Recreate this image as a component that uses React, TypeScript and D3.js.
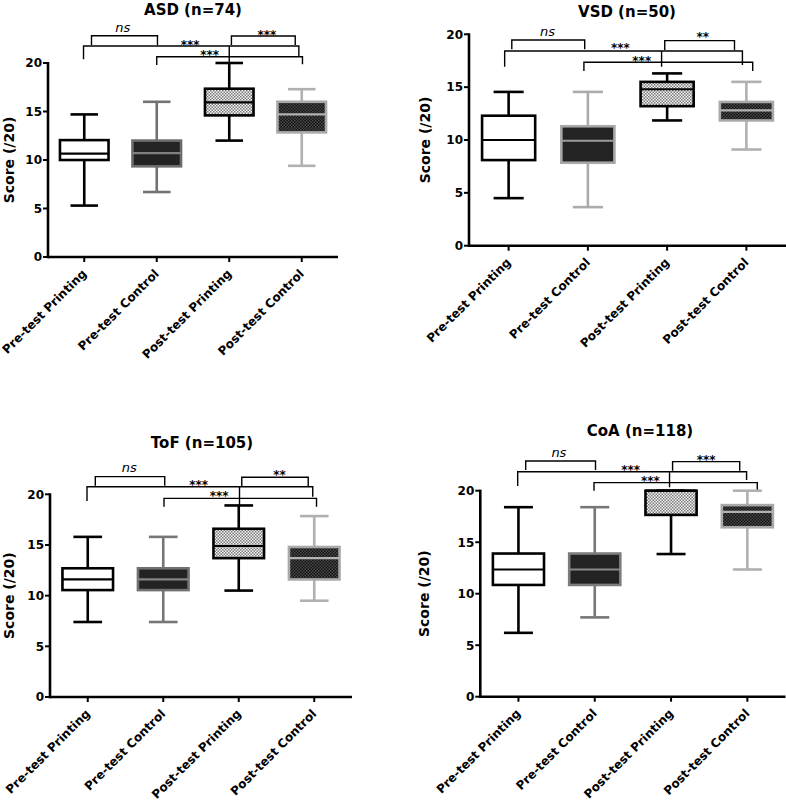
import React from "react";
import * as d3 from "d3";

const groups = ["Pre-test Printing", "Pre-test Control", "Post-test Printing", "Post-test Control"];
const yTicks = [0, 5, 10, 15, 20];

// ASD (n=74)
const asdMin = [5.3, 6.7, 12.0, 9.4];
const asdQ1 = [10.0, 9.35, 14.6, 12.85];
const asdMedian = [10.65, 10.7, 15.95, 14.7];
const asdQ3 = [12.05, 12.0, 17.35, 16.0];
const asdMax = [14.7, 16.0, 20.0, 17.3];

// VSD (n=50)
const vsdMin = [4.5, 3.65, 11.85, 9.1];
const vsdQ1 = [8.1, 7.85, 13.2, 11.85];
const vsdMedian = [10.0, 9.93, 14.8, 12.8];
const vsdQ3 = [12.3, 11.3, 15.5, 13.6];
const vsdMax = [14.55, 14.55, 16.3, 15.5];

// ToF (n=105)
const tofMin = [7.4, 7.4, 10.5, 9.5];
const tofQ1 = [10.55, 10.55, 13.7, 11.6];
const tofMedian = [11.6, 11.6, 14.9, 13.7];
const tofQ3 = [12.7, 12.7, 16.6, 14.8];
const tofMax = [15.8, 15.8, 18.9, 17.85];

// CoA (n=118)
const coaMin = [6.2, 7.7, 13.85, 12.35];
const coaQ1 = [10.85, 10.85, 17.65, 16.45];
const coaMedian = [12.35, 12.35, 20.0, 17.95];
const coaQ3 = [13.9, 13.9, 20.0, 18.6];
const coaMax = [18.4, 18.4, 20.0, 20.0];

// significance brackets: [x1 (category index), x2, top value, left leg bottom, right leg bottom]
const asdBrackets = [
  [0.1, 1.01, 22.81, 21.86, 21.86],
  [2.03, 2.91, 22.78, 21.86, 21.86],
  [-0.01, 2.96, 21.75, 20.38, 20.65],
  [1.0, 3.01, 20.65, 19.8, 19.87],
  [2.0, 2.0, 21.75, 20.0, 20.0],
];
const vsdBrackets = [
  [0.04, 0.96, 19.46, 18.58, 18.58],
  [1.97, 2.85, 19.4, 18.51, 18.51],
  [-0.05, 2.95, 18.42, 16.93, 17.1],
  [0.95, 3.08, 17.35, 16.53, 16.53],
  [1.93, 1.93, 18.42, 16.93, 16.93],
];
const tofBrackets = [
  [0.1, 1.02, 21.74, 20.85, 20.85],
  [2.04, 2.92, 21.68, 20.82, 20.82],
  [-0.01, 2.98, 20.75, 19.34, 19.76],
  [1.01, 3.03, 19.6, 18.78, 18.78],
  [2.01, 2.01, 20.75, 18.94, 18.94],
];
const coaBrackets = [
  [0.095, 1.01, 22.88, 22.01, 22.01],
  [2.02, 2.9, 22.82, 21.94, 21.94],
  [-0.01, 2.99, 21.84, 20.46, 21.04],
  [0.99, 3.13, 20.78, 20.0, 20.0],
  [1.98, 1.98, 21.84, 20.33, 20.33],
];

// significance labels: text, x (category index), value at glyph centre
const asdSigText = ["ns", "***", "***", "***"];
const asdSigX = [0.53, 1.46, 1.73, 2.52];
const asdSigY = [23.6, 22.2, 21.1, 23.2];
const vsdSigText = ["ns", "***", "***", "**"];
const vsdSigX = [0.49, 1.41, 1.68, 2.45];
const vsdSigY = [20.25, 18.99, 17.73, 20.0];
const tofSigText = ["ns", "***", "***", "**"];
const tofSigX = [0.55, 1.47, 1.74, 2.54];
const tofSigY = [22.57, 21.24, 20.1, 22.23];
const coaSigText = ["ns", "***", "***", "***"];
const coaSigX = [0.53, 1.47, 1.73, 2.46];
const coaSigY = [23.63, 22.33, 21.26, 23.3];

const FONT = "'DejaVu Sans', Verdana, sans-serif";

type PanelDef = {
  title: string;
  min: number[];
  q1: number[];
  med: number[];
  q3: number[];
  max: number[];
  brackets: number[][];
  sigText: string[];
  sigX: number[];
  sigY: number[];
  x0: number;
  x1: number;
  yTop: number;
  yBot: number;
  titleX: number;
  titleY: number;
  labelX: number;
  ctrlStroke: string;
  ctrlMedian: string;
  ctrlWhisker: string;
};

const panels: PanelDef[] = [
  {
    title: "ASD (n=74)", min: asdMin, q1: asdQ1, med: asdMedian, q3: asdQ3, max: asdMax,
    brackets: asdBrackets, sigText: asdSigText, sigX: asdSigX, sigY: asdSigY,
    x0: 48, x1: 338, yTop: 63, yBot: 257, titleX: 193, titleY: 15, labelX: 13.5,
    ctrlStroke: "#6c6c6c", ctrlMedian: "#808080", ctrlWhisker: "#727272",
  },
  {
    title: "VSD (n=50)", min: vsdMin, q1: vsdQ1, med: vsdMedian, q3: vsdQ3, max: vsdMax,
    brackets: vsdBrackets, sigText: vsdSigText, sigX: vsdSigX, sigY: vsdSigY,
    x0: 469, x1: 786, yTop: 34.3, yBot: 245.7, titleX: 627, titleY: 16.5, labelX: 430,
    ctrlStroke: "#a8a8a8", ctrlMedian: "#9c9c9c", ctrlWhisker: "#ababab",
  },
  {
    title: "ToF (n=105)", min: tofMin, q1: tofQ1, med: tofMedian, q3: tofQ3, max: tofMax,
    brackets: tofBrackets, sigText: tofSigText, sigX: tofSigX, sigY: tofSigY,
    x0: 50, x1: 352, yTop: 494.3, yBot: 697, titleX: 202, titleY: 448, labelX: 13.5,
    ctrlStroke: "#707070", ctrlMedian: "#858585", ctrlWhisker: "#767676",
  },
  {
    title: "CoA (n=118)", min: coaMin, q1: coaQ1, med: coaMedian, q3: coaQ3, max: coaMax,
    brackets: coaBrackets, sigText: coaSigText, sigX: coaSigX, sigY: coaSigY,
    x0: 480.3, x1: 785.5, yTop: 490.7, yBot: 696.7, titleX: 640, titleY: 436, labelX: 429,
    ctrlStroke: "#7c7c7c", ctrlMedian: "#8a8a8a", ctrlWhisker: "#777777",
  },
];

function Panel({ p }: { p: PanelDef }) {
  const x = d3.scaleBand<string>().domain(groups).range([p.x0, p.x1]).padding(0);
  const y = d3.scaleLinear().domain([0, 20]).range([p.yBot, p.yTop]);
  const step = x.step();
  const c0 = (x(groups[0]) as number) + x.bandwidth() / 2;
  const cx = (i: number) => c0 + i * step;
  const boxW = step * 0.67;
  const capW = step * 0.38;

  const fills = ["#ffffff", "#232323", "url(#lightDots)", "url(#darkDots)"];
  const strokes = ["#000", p.ctrlStroke, "#000", "#a9a9a9"];
  const medians = ["#000", p.ctrlMedian, "#000", "#b3b3b3"];
  const whiskers = ["#000", p.ctrlWhisker, "#000", "#b0b0b0"];
  const lw = 2.6;

  return (
    <g>
      <text x={p.titleX} y={p.titleY} textAnchor="middle" fontFamily={FONT} fontWeight="bold" fontSize={15}>
        {p.title}
      </text>
      <text
        transform={`translate(${p.labelX},${(p.yTop + p.yBot) / 2}) rotate(-90)`}
        textAnchor="middle"
        fontFamily={FONT}
        fontWeight="bold"
        fontSize={14}
      >
        Score (/20)
      </text>

      {/* brackets */}
      {p.brackets.map((b, i) => {
        const xa = cx(b[0]);
        const xb = cx(b[1]);
        const d =
          b[0] === b[1]
            ? `M${xa},${y(b[2])}V${y(b[3])}`
            : `M${xa},${y(b[3])}V${y(b[2])}H${xb}V${y(b[4])}`;
        return <path key={"b" + i} d={d} fill="none" stroke="#000" strokeWidth={1.4} />;
      })}
      {p.sigText.map((t, i) =>
        t === "ns" ? (
          <text key={"s" + i} x={cx(p.sigX[i])} y={y(p.sigY[i]) + 4} textAnchor="middle" fontFamily={FONT}
            fontStyle="italic" fontSize={13}>
            {t}
          </text>
        ) : (
          <text key={"s" + i} x={cx(p.sigX[i])} y={y(p.sigY[i]) + 7} textAnchor="middle" fontFamily={FONT}
            fontWeight="bold" fontSize={12}>
            {t}
          </text>
        )
      )}

      {/* boxes */}
      {groups.map((g, i) => {
        const c = (x(g) as number) + x.bandwidth() / 2;
        return (
          <g key={g}>
            <line x1={c} x2={c} y1={y(p.max[i])} y2={y(p.min[i])} stroke={whiskers[i]} strokeWidth={lw} />
            <line x1={c - capW / 2} x2={c + capW / 2} y1={y(p.max[i])} y2={y(p.max[i])} stroke={whiskers[i]} strokeWidth={lw} />
            <line x1={c - capW / 2} x2={c + capW / 2} y1={y(p.min[i])} y2={y(p.min[i])} stroke={whiskers[i]} strokeWidth={lw} />
            <rect
              x={c - boxW / 2}
              y={y(p.q3[i])}
              width={boxW}
              height={y(p.q1[i]) - y(p.q3[i])}
              fill={fills[i]}
              stroke={strokes[i]}
              strokeWidth={lw}
            />
            <line x1={c - boxW / 2} x2={c + boxW / 2} y1={y(p.med[i])} y2={y(p.med[i])} stroke={medians[i]} strokeWidth={2.2} />
          </g>
        );
      })}

      {/* axes */}
      <line x1={p.x0} x2={p.x0} y1={y(20) - 1} y2={p.yBot + 1.3} stroke="#000" strokeWidth={2.6} />
      <line x1={p.x0} x2={p.x1} y1={p.yBot} y2={p.yBot} stroke="#000" strokeWidth={2.6} />
      {yTicks.map((t) => (
        <g key={"yt" + t}>
          <line x1={p.x0 - 5} x2={p.x0} y1={y(t)} y2={y(t)} stroke="#000" strokeWidth={2} />
          <text x={p.x0 - 6} y={y(t)} dy="0.36em" textAnchor="end" fontFamily={FONT} fontWeight="bold" fontSize={12}>
            {t}
          </text>
        </g>
      ))}
      {groups.map((g) => {
        const c = (x(g) as number) + x.bandwidth() / 2;
        return (
          <g key={"xt" + g}>
            <line x1={c} x2={c} y1={p.yBot} y2={p.yBot + 5} stroke="#000" strokeWidth={2} />
            <text
              transform={`translate(${c + 3},${p.yBot + 17.5}) rotate(-45)`}
              textAnchor="end"
              fontFamily={FONT}
              fontWeight="bold"
              fontSize={12}
            >
              {g}
            </text>
          </g>
        );
      })}
    </g>
  );
}

export default function App() {
  return (
    <svg
      width={786}
      height={805}
      viewBox="0 0 786 805"
      style={{ position: "absolute", left: 0, top: 0, background: "#fff" }}
    >
      <defs>
        <pattern id="lightDots" width={3} height={3} patternUnits="userSpaceOnUse">
          <rect width={3} height={3} fill="#f4f4f4" />
          <rect x={0} y={0} width={1.5} height={1.5} fill="#7a7a7a" />
          <rect x={1.5} y={1.5} width={1.5} height={1.5} fill="#7a7a7a" />
        </pattern>
        <pattern id="darkDots" width={3} height={3} patternUnits="userSpaceOnUse">
          <rect width={3} height={3} fill="#111111" />
          <rect x={0} y={0} width={1.5} height={1.5} fill="#4a4a4a" />
          <rect x={1.5} y={1.5} width={1.5} height={1.5} fill="#4a4a4a" />
        </pattern>
      </defs>
      <rect width={786} height={805} fill="#fff" />
      {panels.map((p) => (
        <Panel key={p.title} p={p} />
      ))}
    </svg>
  );
}
